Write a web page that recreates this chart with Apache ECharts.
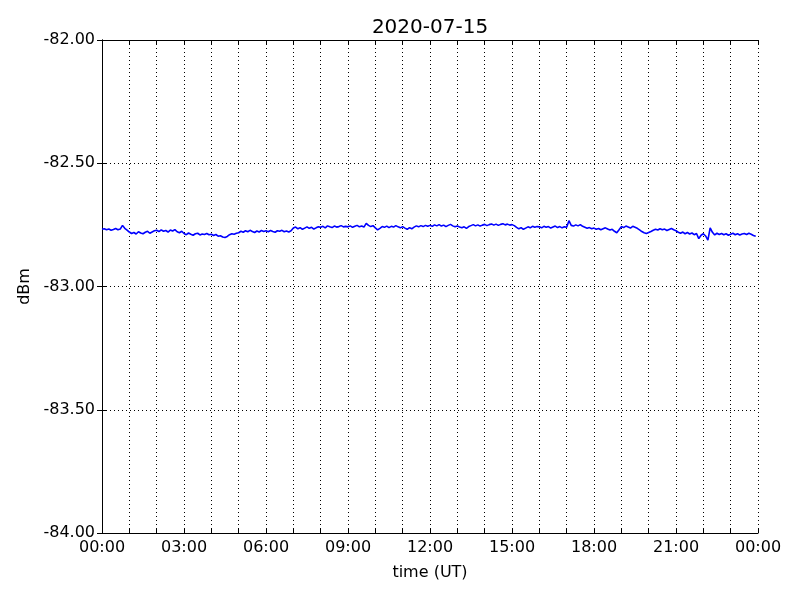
<!DOCTYPE html>
<html>
<head>
<meta charset="utf-8">
<script src="https://cdn.jsdelivr.net/npm/echarts@6/dist/echarts.min.js"></script>
<style>html,body{margin:0;padding:0;background:#fff}#c{width:800px;height:600px}</style>
</head>
<body>
<div id="c"></div>
<script>
var chartTitle = '2020-07-15';
var xTickLabels = ['00:00','03:00','06:00','09:00','12:00','15:00','18:00','21:00','00:00'];
var stepMinutes = 5;
// dBm, one value every 5 minutes from 00:00 UT
var dbm = [
-82.768,-82.766,-82.770,-82.767,-82.772,-82.769,-82.765,-82.770,-82.767,-82.752,-82.764,-82.771,
-82.779,-82.785,-82.781,-82.787,-82.778,-82.783,-82.786,-82.780,-82.776,-82.784,-82.779,-82.774,
-82.772,-82.777,-82.770,-82.776,-82.773,-82.779,-82.771,-82.775,-82.769,-82.778,-82.782,-82.776,
-82.785,-82.790,-82.783,-82.788,-82.792,-82.786,-82.784,-82.791,-82.787,-82.789,-82.785,-82.790,
-82.788,-82.793,-82.789,-82.796,-82.794,-82.799,-82.801,-82.797,-82.790,-82.786,-82.788,-82.784,
-82.782,-82.776,-82.780,-82.774,-82.778,-82.772,-82.777,-82.781,-82.775,-82.779,-82.773,-82.777,
-82.774,-82.778,-82.773,-82.777,-82.780,-82.774,-82.776,-82.772,-82.778,-82.775,-82.779,-82.774,
-82.763,-82.759,-82.766,-82.761,-82.768,-82.763,-82.758,-82.764,-82.760,-82.767,-82.762,-82.758,
-82.760,-82.756,-82.762,-82.754,-82.758,-82.761,-82.755,-82.759,-82.757,-82.753,-82.758,-82.756,
-82.758,-82.754,-82.760,-82.756,-82.752,-82.758,-82.755,-82.759,-82.744,-82.752,-82.757,-82.753,
-82.762,-82.770,-82.764,-82.757,-82.760,-82.755,-82.761,-82.756,-82.759,-82.753,-82.758,-82.762,
-82.757,-82.763,-82.768,-82.761,-82.766,-82.759,-82.754,-82.758,-82.753,-82.757,-82.752,-82.756,
-82.752,-82.756,-82.750,-82.754,-82.749,-82.755,-82.751,-82.757,-82.752,-82.748,-82.754,-82.758,
-82.755,-82.759,-82.762,-82.758,-82.764,-82.757,-82.753,-82.749,-82.754,-82.750,-82.755,-82.751,
-82.748,-82.753,-82.749,-82.746,-82.751,-82.747,-82.752,-82.748,-82.745,-82.750,-82.747,-82.751,
-82.749,-82.753,-82.760,-82.766,-82.761,-82.768,-82.763,-82.758,-82.762,-82.756,-82.760,-82.757,
-82.758,-82.762,-82.756,-82.760,-82.757,-82.763,-82.759,-82.755,-82.761,-82.757,-82.762,-82.758,
-82.760,-82.733,-82.752,-82.755,-82.750,-82.754,-82.749,-82.756,-82.760,-82.764,-82.761,-82.766,
-82.763,-82.768,-82.765,-82.770,-82.766,-82.762,-82.767,-82.771,-82.768,-82.776,-82.782,-82.770,
-82.757,-82.761,-82.755,-82.759,-82.763,-82.756,-82.760,-82.764,-82.770,-82.777,-82.782,-82.785,
-82.781,-82.777,-82.772,-82.768,-82.771,-82.766,-82.770,-82.767,-82.773,-82.769,-82.765,-82.770,
-82.774,-82.780,-82.784,-82.779,-82.786,-82.781,-82.787,-82.783,-82.790,-82.785,-82.806,-82.792,
-82.786,-82.795,-82.812,-82.762,-82.780,-82.791,-82.784,-82.789,-82.785,-82.790,-82.786,-82.792,
-82.788,-82.784,-82.790,-82.786,-82.791,-82.787,-82.785,-82.789,-82.784,-82.788,-82.793,-82.796
];

var seriesData = dbm.map(function (v, i) { return [i * stepMinutes, v]; });
var FONT = 'DejaVu Sans';
var dotted = { show: true, lineStyle: { color: '#000', width: 1, type: [1, 3] } };
var chart = echarts.init(document.getElementById('c'), null, { renderer: 'canvas' });
chart.setOption({
  animation: false,
  backgroundColor: '#fff',
  title: {
    text: chartTitle, left: 430, top: 18, padding: 0, textAlign: 'center',
    textStyle: { fontFamily: FONT, fontSize: 20, fontWeight: 'normal', color: '#000' }
  },
  grid: { left: 102, right: 42, top: 40, bottom: 67, containLabel: false },
  xAxis: [{
    type: 'value', min: 0, max: 1440, interval: 180, position: 'bottom',
    name: 'time (UT)', nameLocation: 'middle', nameGap: 32,
    nameTextStyle: { fontFamily: FONT, fontSize: 16, color: '#000' },
    axisLine: { show: true, lineStyle: { color: '#000', width: 1 } },
    axisTick: { show: true, inside: true, length: 5, lineStyle: { color: '#000' } },
    minorTick: { show: true, splitNumber: 3, length: 5, lineStyle: { color: '#000' } },
    axisLabel: {
      fontFamily: FONT, fontSize: 16, color: '#000', margin: 7,
      formatter: function (v) { return xTickLabels[Math.round(v / 180)]; }
    },
    splitLine: dotted,
    minorSplitLine: dotted
  }, {
    type: 'value', min: 0, max: 1440, interval: 180, position: 'top',
    axisLine: { show: true, lineStyle: { color: '#000', width: 1 } },
    axisTick: { show: true, inside: true, length: 5, lineStyle: { color: '#000' } },
    minorTick: { show: true, splitNumber: 3, length: 5, lineStyle: { color: '#000' } },
    axisLabel: { show: false }, splitLine: { show: false }
  }],
  yAxis: [{
    type: 'value', min: -84, max: -82, interval: 0.5, position: 'left',
    name: 'dBm', nameLocation: 'middle', nameGap: 64, nameRotate: 90,
    nameTextStyle: { fontFamily: FONT, fontSize: 16, color: '#000' },
    axisLine: { show: true, lineStyle: { color: '#000', width: 1 } },
    axisTick: { show: true, inside: true, length: 5, lineStyle: { color: '#000' } },
    axisLabel: {
      fontFamily: FONT, fontSize: 16, color: '#000', margin: 7,
      formatter: function (v) { return v.toFixed(2); }
    },
    splitLine: dotted
  }, {
    type: 'value', min: -84, max: -82, interval: 0.5, position: 'right',
    axisLine: { show: true, lineStyle: { color: '#000', width: 1 } },
    axisTick: { show: true, inside: true, length: 5, lineStyle: { color: '#000' } },
    axisLabel: { show: false }, splitLine: { show: false }
  }],
  series: [{
    type: 'line', xAxisIndex: 0, yAxisIndex: 0, data: seriesData,
    showSymbol: false, symbol: 'none',
    lineStyle: { color: '#0000ff', width: 1.6 }
  }]
});
</script>
</body>
</html>
